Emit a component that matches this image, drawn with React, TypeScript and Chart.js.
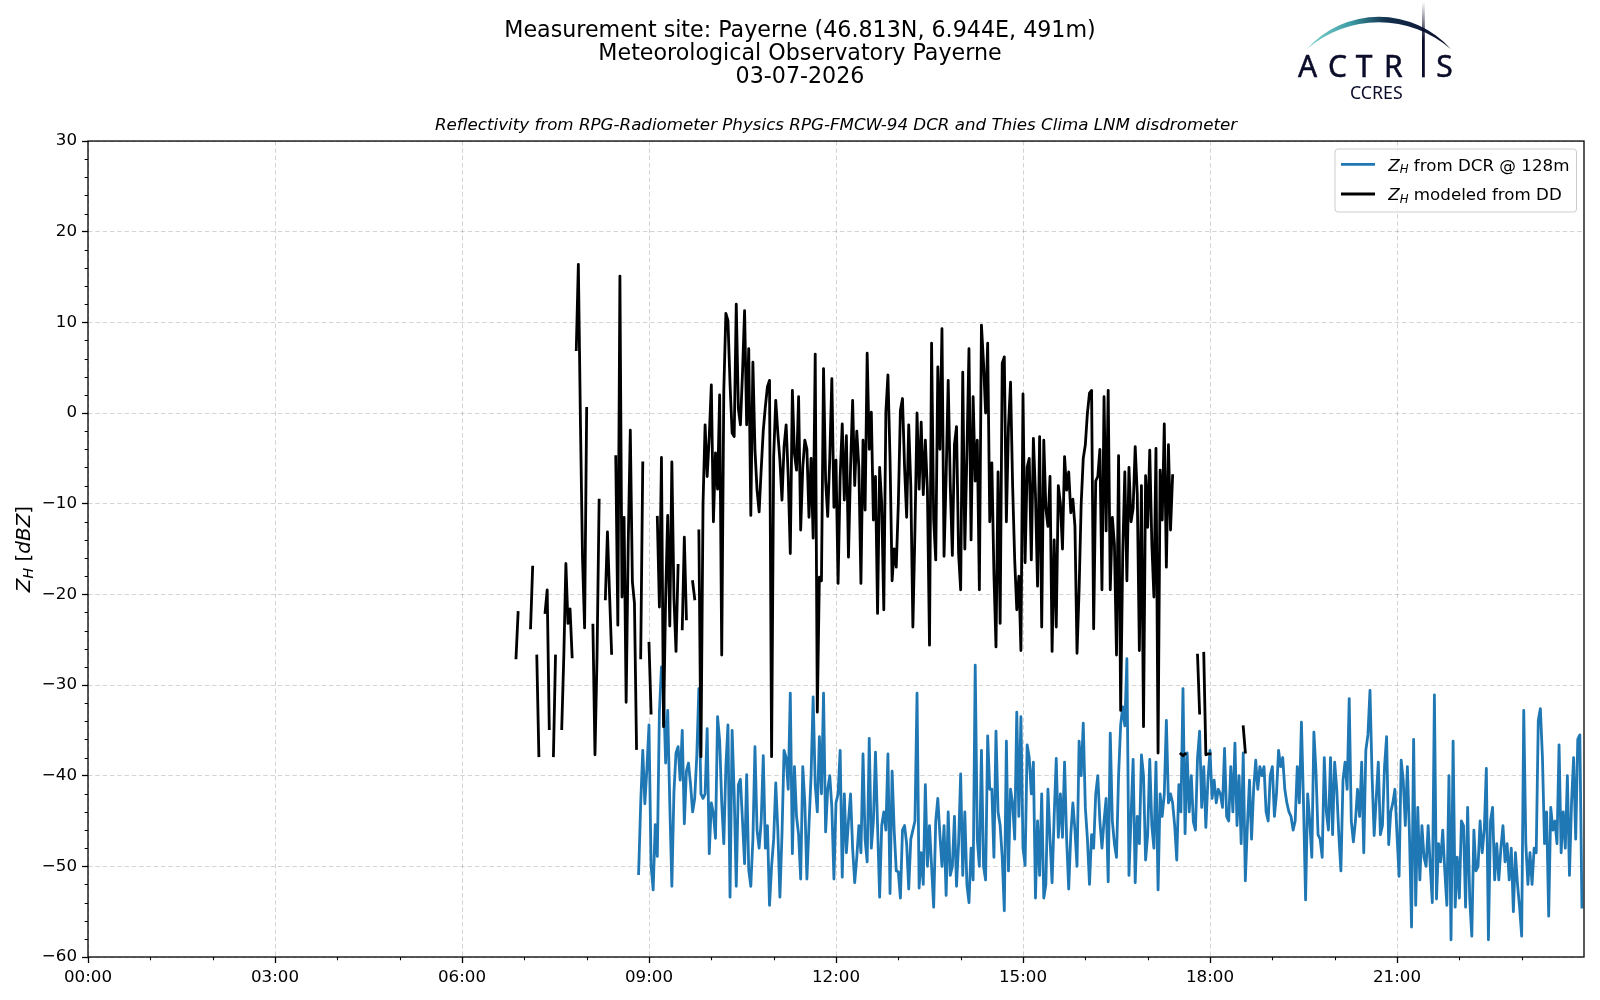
import React, { useEffect, useRef } from 'react';
import { Chart, registerables } from 'chart.js';

Chart.register(...registerables);

const _ = null;

// ---------- text ----------
const TITLE_LINES = [
  'Measurement site: Payerne (46.813N, 6.944E, 491m)',
  'Meteorological Observatory Payerne',
  '03-07-2026',
];
const SUBTITLE = 'Reflectivity from RPG-Radiometer Physics RPG-FMCW-94 DCR and Thies Clima LNM disdrometer';
const LEGEND_DCR = ' from DCR @ 128m';
const LEGEND_DD = ' modeled from DD';

// ---------- axes ----------
const X_MIN = 0;
const X_MAX = 24;
const X_TICK_HOURS = [0, 3, 6, 9, 12, 15, 18, 21];
const Y_MIN = -60;
const Y_MAX = 30;
const Y_STEP = 10;
const Y_MINOR = 2;
const SAMPLE_MINUTES = 2;

// ---------- Z_H modeled from disdrometer (black), one array per hour, 2-min samples ----------
const dd06 = [_, _, _, _, _, _, _, _, _, _, _, _, _, _, _, _, _, _, _, _, _, _, _, _, _, _, -27, -22, _, _];
const dd07 = [_, _, _, -23.7, -17, _, -26.8, -37.8, _, _, -22, -19.5, -34.8, _, -37.8, -26.8, _, _, -34.8, -26.8, -16.6, -23.2, -21.6, -26.9, _, 7, 16.4, -1, -16, -23.7];
const dd08 = [0.5, _, _, -23.4, -37.7, -26.7, -9.6, _, _, -20.5, -13.1, -19.9, -26.5, _, -4.8, -23.4, 15.1, -20.3, -11.5, -31.9, -14.4, -1.9, -18.6, -21, -37, _, -27, -5.5, _, _];
const dd09 = [-25.4, -33.1, _, _, -11.5, -21.4, -4.9, -34.6, -20.4, -11.3, -23.5, -5.4, -20.4, -26.3, -16.8, _, -23.8, -13.7, -22.7, _, _, -18.6, -20.5, _, -13, -37.9, -10, -1.3, -7, -2.6];
const dd10 = [3.1, -12, -4.4, -8.4, 2.0, -26.7, 2.5, 11.0, 10.2, 3.2, -2.2, -2.6, 12.0, 0.5, -1.3, 4.4, 11.3, -1.3, 7.1, -11.3, 5.6, -4.1, -8.5, -10.9, -6.2, -1.9, 0.7, 2.9, 3.6, -37.9];
const dd11 = [-4.8, 1.4, -2.2, -5.2, -9.6, -3.7, -1.3, -7, -15.5, 2.5, -4.5, -6.3, 1.8, -12.9, -6, -3.0, -4, -11.5, -5, -13.8, 6.5, -33, -18.1, -18.5, 4.9, -7.4, -11.4, -5, 3.8, -10.4];
const dd12 = [-5.2, -18.8, -7.0, -1.2, -9.6, -2.5, -15.9, -6, 1.4, -8, -2, -6, -18.8, -3, -10.7, 6.6, -4, 0.1, -11.8, -7, -22.1, -6, -10, -21.7, 0.1, 4.2, -5, -18.5, -15, -17];
const dd13 = [-10, 0.3, 1.6, -6, -11.5, -1.3, -8, -23.6, -12.9, 0, -8.4, -1, -9, -3, -8.6, -25.6, 7.7, -11.7, -16.2, 5.1, -4, 9.3, -15.8, -7, 3.6, -8, -15.7, -3.5, -1.5, -15.5];
const dd14 = [-19.5, 4.5, -15, -4.5, 7.1, -14, 1.8, -7.5, -3, -19.5, 9.7, 5.5, 0, 7.7, -12, -5.5, -17.7, -25.8, -6.5, -23.2, 5.5, 6.2, -12, -1.5, 3.4, -8, -16.2, -21.7, -18, -26.2];
const dd15 = [2.1, -16.5, -6, -5, -16.2, -2.8, -9, -19.1, -2.6, -23.6, -3, -10.5, -12.5, -7, -26.3, -14, -23.6, -8, -10, -15, -4.8, -8.5, -6.5, -11, -9.5, -12.5, -26.5, -19.5, -10, -5];
const dd16 = [-3.5, 0, 2.2, 2.5, -23.8, -7.5, -7, -4, -19.5, 1.8, -13, 2.5, -19.5, -11.5, -14.5, -26.7, -4.7, -32.8, -15.5, -6.5, -18.5, -6, -12, -10.5, -3.7, -9, -26.2, -8, -34.6, -6.9];
const dd17 = [-12.6, -4.1, -14.4, -20.3, -3.9, -37.5, -6.3, -11.8, -1.2, -17, -3.5, -12.9, -6.9, _, _, _, -37.6, -37.8, -37.6, _, _, _, _, _, -26.7, -33.1, _, -26.5, -37.7, -37.6];
const dd18 = [-37.6, _, _, _, _, _, _, _, _, _, _, _, _, _, _, _, -34.6, -37.4, _, _, _, _, _, _, _, _, _, _, _, _];

// ---------- Z_H from DCR @ 128 m (blue), one array per hour, 2-min samples ----------
const dcr08 = [_, _, _, _, _, _, _, _, _, _, _, _, _, _, _, _, _, _, _, _, _, _, _, _, _, -50.8, -43.1, -37.2, -43.1, -39.2];
const dcr09 = [-34.4, -49.9, -52.6, -45.4, -48.9, -33.0, -28, -30.6, -38.6, -32.8, -43.1, -52.2, -41.8, -37.5, -36.8, -40.5, -35, -45.3, -39.5, -38.6, -41, -44, -42.5, -37.8, -30.4, -42, -42.5, -42, -34.8, -48.6];
const dcr10 = [-43, -44.2, -46.9, -33.5, -36.1, -43, -47.5, -39, -34.4, -53.4, -35, -42, -52.2, -41, -40.4, -45, -49.7, -39.9, -50.4, -52.2, -47, -36.8, -46, -48, -45, -37.8, -48, -45.5, -54.3, -50];
const dcr11 = [-47, -40.8, -46, -53.4, -46.5, -37.2, -38, -41.5, -30.9, -48.6, -39, -44.5, -46.5, -51.4, -39, -43, -51.4, -45.5, -40, -31.3, -41, -44, -35.7, -42, -30.9, -46.2, -41.5, -40, -43.5, -51.4];
const dcr12 = [-43, -42, -37.2, -51.2, -42, -48.5, -45, -42, -48, -51.8, -49, -45.5, -48.5, -37.6, -47, -49.5, -35.9, -48, -45, -37.4, -45.5, -53.4, -45.5, -44, -46, -37.6, -53, -39.5, -46, -50.5];
const dcr13 = [-50.6, -53.5, -46, -45.5, -47.5, -52.5, -47, -46, -45, -30.9, -52.4, -48.5, -52, -41, -50, -45.5, -50, -54.5, -45, -42.5, -46.5, -50, -45.5, -53.2, -44, -51, -50, -44.5, -52.2, -47.5];
const dcr14 = [-39.8, -51, -44, -52, -54, -48, -51.5, -27.8, -47, -50, -37.2, -50, -51.5, -35.6, -41.5, -41.5, -49, -35.1, -44, -45.5, -49, -54.9, -36.2, -50.5, -41.5, -43, -47, -33, -44.5, -33.5];
const dcr15 = [-48, -49.9, -36.6, -38, -42, -38.5, -53.5, -45, -51, -42, -53.5, -52, -41.5, -47, -51.8, -44.5, -38.1, -46.8, -42, -46.8, -38.5, -47, -52.5, -46.5, -43, -46, -50, -36.2, -40, -34.2];
const dcr16 = [-43.5, -47, -52, -46.5, -48, -42, -40, -45, -48, -45, -42.5, -51.7, -35.3, -45, -47.5, -49, -40, -34.4, -32.4, -34.5, -27.1, -51, -44.5, -38.2, -51.8, -44.5, -47.5, -37.7, -40, -49.3];
const dcr17 = [-46.5, -38.2, -45.5, -48, -38.5, -52.6, -42, -44.5, -42, -33.9, -43, -42, -43, -45.5, -49.3, -41, -44, -30.4, -46.4, -37.5, -44, -40, -45.1, -46, -38, -35.1, -43.5, -39, -45.7, -40.5];
const dcr18 = [-37.2, -42.5, -40.5, -43, -41.5, -42, -43.5, -37, -44.5, -45, -39, -44, -36.4, -45.5, -40, -47.5, -37.5, -51.6, -45.5, -40.5, -47, -41.5, -38.3, -41.5, -39, -40, -39, -44, -45, -40];
const dcr19 = [-39, -44.5, -42, -37.2, -39, -38, -41.5, -43, -44, -44.5, -46, -45, -39, -43, -34.1, -43, -53.7, -42, -45, -49, -35.2, -39.5, -46.5, -47, -49, -38, -44, -46, -38, -46.5];
const dcr20 = [-38.5, -41.5, -46.5, -50.5, -40.5, -38.5, -41.5, -31.5, -45, -47.3, -45, -41.5, -44.5, -38.5, -48.5, -37.2, -35.5, -30.6, -40, -46.6, -42.5, -38.5, -46.5, -45.5, -39, -35.7, -47.6, -44, -43, -41.5];
const dcr21 = [-46.5, -51.1, -38.3, -40.5, -45.5, -39, -46.5, -56.7, -36, -54.3, -43.5, -51.5, -45.5, -49, -50, -45.5, -50, -54, -31.1, -53.6, -47.5, -49.5, -46, -50.5, -54.3, -40, -58.1, -36.2, -54.5, -49];
const dcr22 = [-53.5, -45, -45.5, -54.5, -43.5, -53.6, -57.7, -46, -50.5, -50, -45, -48.5, -46, -39.2, -58.1, -45, -43.5, -51.5, -47.5, -51.5, -48, -45.5, -49.5, -47.5, -51.5, -48, -55, -48.5, -52, -54.5];
const dcr23 = [-57.7, -32.8, -47.5, -52, -48.5, -52, -48, -48.5, -33.9, -32.6, -38, -47.5, -44, -55.5, -43.5, -46, -45, -47.5, -36.6, -48.5, -44, -48, -40, -51, -43, -38, -47, -36, -35.5, -54.5];

const DD_START_HOUR = 6;
const DD_BLOCKS = [dd06, dd07, dd08, dd09, dd10, dd11, dd12, dd13, dd14, dd15, dd16, dd17, dd18];
const DCR_START_HOUR = 8;
const DCR_BLOCKS = [dcr08, dcr09, dcr10, dcr11, dcr12, dcr13, dcr14, dcr15, dcr16, dcr17, dcr18, dcr19, dcr20, dcr21, dcr22, dcr23];

const COLOR_DCR = '#1f77b4';
const COLOR_DD = '#000000';
const LINE_WIDTH = 2.8;
const FONT = "'DejaVu Sans', 'Liberation Sans', sans-serif";

function toPoints(startHour: number, blocks: (number | null)[][]) {
  const pts: { x: number; y: number | null }[] = [];
  blocks.forEach((block, b) => {
    block.forEach((v, i) => {
      pts.push({ x: startHour + b + (i * SAMPLE_MINUTES) / 60, y: v });
    });
  });
  return pts;
}

function fmtNum(v: number) {
  return v < 0 ? '\u2212' + Math.abs(v) : String(v);
}

type Run = { t: string; italic?: boolean; sub?: boolean };

function runFont(r: Run, size: number) {
  const s = r.sub ? size * 0.7 : size;
  return `${r.italic ? 'italic ' : ''}${s}px ${FONT}`;
}
function measureRuns(ctx: CanvasRenderingContext2D, runs: Run[], size: number) {
  let w = 0;
  for (const r of runs) {
    ctx.font = runFont(r, size);
    w += ctx.measureText(r.t).width;
  }
  return w;
}
function drawRuns(ctx: CanvasRenderingContext2D, runs: Run[], x: number, y: number, size: number) {
  let cx = x;
  ctx.textBaseline = 'alphabetic';
  ctx.textAlign = 'left';
  for (const r of runs) {
    ctx.font = runFont(r, size);
    ctx.fillText(r.t, cx, r.sub ? y + size * 0.17 : y);
    cx += ctx.measureText(r.t).width;
  }
}

const decorPlugin = {
  id: 'decor',
  afterDraw(chart: any) {
    const { ctx, chartArea: a, scales } = chart;
    const xs = scales.x;
    const ys = scales.y;
    ctx.save();
    // minor ticks
    ctx.strokeStyle = '#000';
    ctx.lineWidth = 1.1;
    ctx.beginPath();
    for (let v = Y_MIN; v <= Y_MAX; v += Y_MINOR) {
      if (v % Y_STEP === 0) continue;
      const py = Math.round(ys.getPixelForValue(v)) + 0.5;
      ctx.moveTo(a.left, py);
      ctx.lineTo(a.left - 3.3, py);
    }
    for (let h = X_MIN; h < X_MAX; h += 1) {
      if (X_TICK_HOURS.includes(h)) continue;
      const px = Math.round(xs.getPixelForValue(h)) + 0.5;
      ctx.moveTo(px, a.bottom);
      ctx.lineTo(px, a.bottom + 3.3);
    }
    ctx.stroke();

    // frame
    ctx.lineWidth = 1.3;
    ctx.strokeStyle = '#000';
    ctx.strokeRect(a.left, a.top, a.right - a.left, a.bottom - a.top);

    // y-axis label
    ctx.fillStyle = '#000';
    const ySize = 20;
    const yRuns: Run[] = [
      { t: 'Z', italic: true },
      { t: 'H', italic: true, sub: true },
      { t: ' [' },
      { t: 'dBZ', italic: true },
      { t: ']' },
    ];
    const yw = measureRuns(ctx, yRuns, ySize);
    ctx.save();
    ctx.translate(29.5, (a.top + a.bottom) / 2);
    ctx.rotate(-Math.PI / 2);
    drawRuns(ctx, yRuns, -yw / 2, 0, ySize);
    ctx.restore();

    // legend
    const lx = 1335, ly = 149, lw = 241.5, lh = 63, rad = 3;
    ctx.beginPath();
    ctx.moveTo(lx + rad, ly);
    ctx.lineTo(lx + lw - rad, ly);
    ctx.quadraticCurveTo(lx + lw, ly, lx + lw, ly + rad);
    ctx.lineTo(lx + lw, ly + lh - rad);
    ctx.quadraticCurveTo(lx + lw, ly + lh, lx + lw - rad, ly + lh);
    ctx.lineTo(lx + rad, ly + lh);
    ctx.quadraticCurveTo(lx, ly + lh, lx, ly + lh - rad);
    ctx.lineTo(lx, ly + rad);
    ctx.quadraticCurveTo(lx, ly, lx + rad, ly);
    ctx.closePath();
    ctx.fillStyle = 'rgba(255,255,255,0.8)';
    ctx.fill();
    ctx.strokeStyle = '#cccccc';
    ctx.lineWidth = 1;
    ctx.stroke();

    const rows = [
      { color: COLOR_DCR, y: 164.3, text: LEGEND_DCR },
      { color: COLOR_DD, y: 194, text: LEGEND_DD },
    ];
    for (const row of rows) {
      ctx.strokeStyle = row.color;
      ctx.lineWidth = LINE_WIDTH;
      ctx.beginPath();
      ctx.moveTo(1341, row.y);
      ctx.lineTo(1375, row.y);
      ctx.stroke();
      ctx.fillStyle = '#000';
      drawRuns(
        ctx,
        [{ t: 'Z', italic: true }, { t: 'H', italic: true, sub: true }, { t: row.text }],
        1388.3,
        row.y + 6.3,
        16.7
      );
    }
    ctx.restore();
  },
};

function Logo() {
  const navy = '#0b0c2a';
  return (
    <svg
      width={1600}
      height={1000}
      style={{ position: 'absolute', left: 0, top: 0, pointerEvents: 'none' }}
    >
      <defs>
        <linearGradient id="arcGrad" gradientUnits="userSpaceOnUse" x1="1306" y1="0" x2="1452" y2="0">
          <stop offset="0" stopColor="#86d6d0" />
          <stop offset="0.3" stopColor="#3d9ea6" />
          <stop offset="0.55" stopColor="#14304d" />
          <stop offset="1" stopColor={navy} />
        </linearGradient>
        <linearGradient id="iGrad" gradientUnits="userSpaceOnUse" x1="0" y1="2" x2="0" y2="40">
          <stop offset="0" stopColor={navy} stopOpacity="0" />
          <stop offset="1" stopColor={navy} stopOpacity="1" />
        </linearGradient>
      </defs>
      <path
        d="M 1306.7 49.3 A 96.4 96.4 0 0 1 1451 49.3 A 110 110 0 0 0 1306.7 49.3 Z"
        fill="url(#arcGrad)"
      />
      <rect x={1422} y={2} width={2.8} height={75.3} fill="url(#iGrad)" />
      <g
        fill={navy}
        stroke={navy}
        strokeWidth={0.5}
        fontFamily="'Noto Sans', 'DejaVu Sans', sans-serif"
        fontSize={30}
        textAnchor="middle"
      >
        <text x={1307.5} y={77.3}>A</text>
        <text x={1337.5} y={77.3}>C</text>
        <text x={1364.2} y={77.3}>T</text>
        <text x={1393.3} y={77.3}>R</text>
        <text x={1444.5} y={77.3}>S</text>
      </g>
      <text
        x={1350}
        y={99}
        fill={navy}
        fontFamily="'Noto Sans', 'DejaVu Sans', sans-serif"
        fontSize={18}
        textLength={52.7}
        lengthAdjust="spacingAndGlyphs"
      >
        CCRES
      </text>
    </svg>
  );
}

export default function App() {
  const ref = useRef<HTMLCanvasElement>(null);

  useEffect(() => {
    if (!ref.current) return;
    const chart = new Chart(ref.current, {
      type: 'line',
      data: {
        datasets: [
          {
            label: 'Z_H from DCR @ 128m',
            data: toPoints(DCR_START_HOUR, DCR_BLOCKS) as any,
            borderColor: COLOR_DCR,
            backgroundColor: COLOR_DCR,
            borderWidth: LINE_WIDTH,
            pointRadius: 0,
            spanGaps: false,
            tension: 0,
            borderJoinStyle: 'round',
            borderCapStyle: 'square',
            order: 1,
          },
          {
            label: 'Z_H modeled from DD',
            data: toPoints(DD_START_HOUR, DD_BLOCKS) as any,
            borderColor: COLOR_DD,
            backgroundColor: COLOR_DD,
            borderWidth: LINE_WIDTH,
            pointRadius: 0,
            spanGaps: false,
            tension: 0,
            borderJoinStyle: 'round',
            borderCapStyle: 'square',
            order: 0,
          },
        ],
      },
      options: {
        responsive: false,
        animation: false,
        devicePixelRatio: 1,
        events: [],
        layout: { padding: { left: 0, right: 0, top: 0, bottom: 0 } },
        plugins: {
          legend: { display: false },
          tooltip: { enabled: false },
          title: {
            display: true,
            text: TITLE_LINES,
            color: '#000',
            font: { family: FONT, size: 22.2, weight: 'normal', lineHeight: 1.036 },
            padding: { top: 19.5, bottom: 17.5 },
          },
          subtitle: {
            display: true,
            text: SUBTITLE,
            color: '#000',
            fullSize: false,
            font: { family: FONT, size: 16.7, style: 'italic', weight: 'normal', lineHeight: 1.2 },
            padding: { top: 9.5, bottom: 5.5 },
          },
        },
        scales: {
          x: {
            type: 'linear',
            min: X_MIN,
            max: X_MAX,
            afterBuildTicks: (axis: any) => {
              axis.ticks = X_TICK_HOURS.map((v) => ({ value: v }));
            },
            afterFit: (axis: any) => {
              axis.height = 43;
            },
            ticks: {
              autoSkip: false,
              maxRotation: 0,
              color: '#000',
              padding: 5,
              font: { family: FONT, size: 16.7 },
              callback: (v: any) => String(v).padStart(2, '0') + ':00',
            },
            grid: {
              color: 'rgba(0,0,0,0.17)',
              lineWidth: 1,
              drawTicks: true,
              tickLength: 6,
              tickColor: '#000',
              tickWidth: 1.3,
            },
            border: { display: false, dash: [4.5, 2.8] },
          },
          y: {
            type: 'linear',
            position: 'left',
            min: Y_MIN,
            max: Y_MAX,
            afterFit: (axis: any) => {
              axis.width = 88;
            },
            ticks: {
              stepSize: Y_STEP,
              color: '#000',
              padding: 5,
              font: { family: FONT, size: 16.7 },
              callback: (v: any) => fmtNum(Number(v)),
            },
            grid: {
              color: 'rgba(0,0,0,0.17)',
              lineWidth: 1,
              drawTicks: true,
              tickLength: 6,
              tickColor: '#000',
              tickWidth: 1.3,
            },
            border: { display: false, dash: [4.5, 2.8] },
          },
          spacer: {
            type: 'linear',
            position: 'right',
            display: true,
            min: 0,
            max: 1,
            afterFit: (axis: any) => {
              axis.width = 16;
            },
            ticks: { display: false },
            grid: { display: false, drawTicks: false },
            border: { display: false },
          },
        },
      },
      plugins: [decorPlugin],
    } as any);
    return () => chart.destroy();
  }, []);

  return (
    <div
      style={{
        position: 'absolute',
        left: 0,
        top: 0,
        width: 1600,
        height: 1000,
        background: '#fff',
        overflow: 'hidden',
      }}
    >
      <canvas
        ref={ref}
        width={1600}
        height={1000}
        style={{ position: 'absolute', left: 0, top: 0, width: 1600, height: 1000 }}
      />
      <Logo />
    </div>
  );
}
